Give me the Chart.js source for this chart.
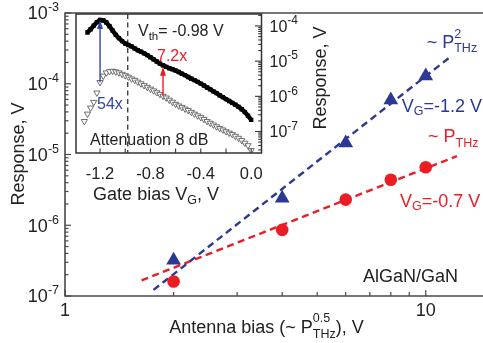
<!DOCTYPE html>
<html><head><meta charset="utf-8">
<script src="https://cdn.jsdelivr.net/npm/chart.js@4.4.1/dist/chart.umd.min.js"></script>
<style>
html,body{margin:0;padding:0;background:#fff;}
#wrap{position:relative;width:483px;height:343px;overflow:hidden;background:#fff;}
#wrap canvas{position:absolute;left:0;top:0;}
</style></head><body>
<div id="wrap"><canvas id="main" width="483" height="343"></canvas><canvas id="inset" width="483" height="343"></canvas></div>
<script>
// ---------- main plot data ----------
const antennaBias = [2, 4, 6, 8, 10];
const responseVg12 = [3.2e-7, 2.4e-6, 1.45e-5, 5.9e-5, 1.29e-4];
const responseVg07 = [1.6e-7, 8.6e-7, 2.3e-6, 4.4e-6, 6.6e-6];
const fitVg12X = [1.76, 11.7];
const fitVg12Y = [1.22e-7, 2.4e-4];
const fitVg07X = [1.63, 12.2];
const fitVg07Y = [1.66e-7, 9.5e-6];
const mainXTicks = [1, 2, 3, 4, 5, 6, 7, 8, 9, 10];
const mainXLabels = [1, 10];
const mainYDecades = [-7, -6, -5, -4, -3];

// ---------- inset data ----------
const gateBias = [-1.325,-1.3,-1.275,-1.25,-1.225,-1.2,-1.175,-1.15,-1.125,-1.1,-1.075,-1.05,-1.025,-1.0,-0.975,-0.95,-0.925,-0.9,-0.875,-0.85,-0.825,-0.8,-0.775,-0.75,-0.725,-0.7,-0.675,-0.65,-0.625,-0.6,-0.575,-0.55,-0.525,-0.5,-0.475,-0.45,-0.425,-0.4,-0.375,-0.35,-0.325,-0.3,-0.275,-0.25,-0.225,-0.2,-0.175,-0.15,-0.125,-0.1,-0.075,-0.05,-0.025,0.0];
const responseNoAtt = [null,6.5e-5,8.1e-5,1.02e-4,1.29e-4,1.48e-4,1.45e-4,1.26e-4,9.8e-5,7.4e-5,5.6e-5,4.5e-5,3.7e-5,3.16e-5,2.88e-5,2.63e-5,2.29e-5,2.04e-5,1.86e-5,1.66e-5,1.48e-5,1.29e-5,1.12e-5,9.8e-6,8.5e-6,7.6e-6,6.9e-6,6.3e-6,5.9e-6,5.4e-6,4.9e-6,4.4e-6,4.0e-6,3.55e-6,3.16e-6,2.88e-6,2.57e-6,2.29e-6,2.04e-6,1.78e-6,1.58e-6,1.38e-6,1.23e-6,1.07e-6,9.5e-7,8.3e-7,7.4e-7,6.5e-7,5.75e-7,5.0e-7,4.3e-7,3.55e-7,2.8e-7,2.14e-7];
const responseAtt8dB = [1.95e-7,3.16e-7,4.7e-7,6.8e-7,1.26e-6,2.5e-6,3.8e-6,4.7e-6,5.1e-6,5.25e-6,5.0e-6,4.7e-6,4.27e-6,3.9e-6,3.55e-6,3.16e-6,2.88e-6,2.57e-6,2.29e-6,2.04e-6,1.82e-6,1.62e-6,1.45e-6,1.29e-6,1.15e-6,1.02e-6,9.1e-7,7.9e-7,6.9e-7,6.0e-7,5.4e-7,4.9e-7,4.4e-7,4.0e-7,3.55e-7,3.16e-7,2.82e-7,2.51e-7,2.24e-7,1.95e-7,1.74e-7,1.55e-7,1.38e-7,1.23e-7,1.12e-7,1.0e-7,9.1e-8,8.3e-8,7.4e-8,6.5e-8,5.6e-8,4.7e-8,4.0e-8,2.9e-8];
const thresholdVoltage = -0.98;
const arrowBlueIndex = 5;   // V_G = -1.2 V  (54x)
const arrowRedIndex = 25;   // V_G = -0.7 V  (7.2x)
const insetXTicks = [-1.2, -1.0, -0.8, -0.6, -0.4, -0.2, 0.0];
const insetXLabels = ['-1.2', '-0.8', '-0.4', '0.0'];
const insetXLabelValues = [-1.2, -0.8, -0.4, 0.0];
const insetYDecades = [-8, -7, -6, -5, -4];

const BLUE = '#2b3894', RED = '#ec1c24', TXT = '#222', AXIS = '#4a4a4a';
const FONT = "'Liberation Sans', Arial, Helvetica, sans-serif";
function font(s){ return s + 'px ' + FONT; }
function richWidth(ctx, parts){
  let w = 0;
  for (const p of parts){
    ctx.font = font(p.s);
    if (p.stack) w += Math.max(ctx.measureText(p.sup).width, ctx.measureText(p.sub).width);
    else w += ctx.measureText(p.t).width;
  }
  return w;
}
function drawRich(ctx, parts, x, y, align, color){
  const w = richWidth(ctx, parts);
  let cx = align === 'center' ? x - w/2 : align === 'right' ? x - w : x;
  ctx.fillStyle = color; ctx.textBaseline = 'alphabetic'; ctx.textAlign = 'left';
  for (const p of parts){
    ctx.font = font(p.s);
    if (p.stack){
      ctx.fillText(p.sup, cx, y + p.supDy);
      ctx.fillText(p.sub, cx, y + p.subDy);
      cx += Math.max(ctx.measureText(p.sup).width, ctx.measureText(p.sub).width);
    } else {
      ctx.fillText(p.t, cx, y + (p.dy || 0));
      cx += ctx.measureText(p.t).width;
    }
  }
}
function seg(ctx, x0, y0, x1, y1){ ctx.beginPath(); ctx.moveTo(x0, y0); ctx.lineTo(x1, y1); ctx.stroke(); }

const mainDecor = {
  id: 'mainDecor',
  afterDraw(chart){
    const {ctx, chartArea: a, scales: {x, y}} = chart;
    ctx.save();
    ctx.strokeStyle = AXIS; ctx.lineWidth = 1.6;
    ctx.beginPath();
    ctx.moveTo(a.right + 2, a.top); ctx.lineTo(a.left, a.top); ctx.lineTo(a.left, a.bottom); ctx.lineTo(a.right + 2, a.bottom);
    ctx.stroke();
    ctx.lineWidth = 1.2;
    for (const v of mainXTicks){
      const px = x.getPixelForValue(v);
      const len = mainXLabels.includes(v) ? 6 : 4;
      seg(ctx, px, a.bottom, px, a.bottom - len);
    }
    for (const e of mainYDecades){
      for (let m = 1; m <= 9; m++){
        const v = m * Math.pow(10, e);
        if (v > y.max * 1.0001) continue;
        const py = y.getPixelForValue(v);
        seg(ctx, a.left, py, a.left + (m === 1 ? 6 : 3.5), py);
      }
      const py = y.getPixelForValue(Math.pow(10, e));
      drawRich(ctx, [{t:'10', s:18}, {t:String(e), s:12.5, dy:-8}], 59, py + 6.4, 'right', TXT);
    }
    for (const v of mainXLabels){
      drawRich(ctx, [{t:String(v), s:18}], x.getPixelForValue(v), 316, 'center', TXT);
    }
    // axis titles
    drawRich(ctx, [{t:'Antenna bias (~ P', s:18}, {stack:true, sup:'0.5', sub:'THz', s:12.5, supDy:-11, subDy:5}, {t:'), V', s:18}], 266.5, 333.3, 'center', TXT);
    ctx.save(); ctx.translate(24, 154); ctx.rotate(-Math.PI/2);
    drawRich(ctx, [{t:'Response, V', s:18}], 0, 0, 'center', TXT);
    ctx.restore();
    // annotations
    drawRich(ctx, [{t:'~ P', s:18}, {stack:true, sup:'2', sub:'THz', s:12.5, supDy:-10, subDy:4}], 426.7, 48.3, 'left', BLUE);
    drawRich(ctx, [{t:'V', s:18}, {t:'G', s:12.5, dy:3.5}, {t:'=-1.2 V', s:18}], 401.7, 111.7, 'left', BLUE);
    drawRich(ctx, [{t:'~ P', s:18}, {t:'THz', s:12.5, dy:5}], 428, 141.7, 'left', RED);
    drawRich(ctx, [{t:'V', s:18}, {t:'G', s:12.5, dy:3.5}, {t:'=-0.7 V', s:18}], 400, 206.7, 'left', RED);
    drawRich(ctx, [{t:'AlGaN/GaN', s:18}], 363, 281.7, 'left', TXT);
    ctx.restore();
  }
};

new Chart(document.getElementById('main'), {
  type: 'scatter',
  data: { datasets: [
    { label: 'V_G=-1.2 V', data: antennaBias.map((v, i) => ({x: v, y: responseVg12[i]})),
      pointStyle: 'triangle', pointRadius: 8.5, backgroundColor: BLUE, borderColor: BLUE, borderWidth: 0 },
    { label: 'V_G=-0.7 V', data: antennaBias.map((v, i) => ({x: v, y: responseVg07[i]})),
      pointStyle: 'circle', pointRadius: 6.3, backgroundColor: RED, borderColor: RED, borderWidth: 0 },
    { type: 'line', label: '~P^2', data: fitVg12X.map((v, i) => ({x: v, y: fitVg12Y[i]})),
      borderColor: BLUE, borderWidth: 2.4, borderDash: [7, 4.5], pointRadius: 0, fill: false, showLine: true },
    { type: 'line', label: '~P', data: fitVg07X.map((v, i) => ({x: v, y: fitVg07Y[i]})),
      borderColor: RED, borderWidth: 2.4, borderDash: [7, 4.5], pointRadius: 0, fill: false, showLine: true }
  ]},
  options: {
    responsive: false, animation: false, devicePixelRatio: 1,
    layout: { padding: {top: 13, left: 0, right: 0, bottom: 0}, autoPadding: false },
    plugins: { legend: {display: false}, tooltip: {enabled: false} },
    scales: {
      x: { type: 'logarithmic', min: 1, max: 14.41, position: 'bottom',
           grid: {display: false}, border: {display: false}, ticks: {display: false},
           afterFit: s => { s.height = 47; } },
      y: { type: 'logarithmic', min: 1e-7, max: 1e-3, position: 'left',
           grid: {display: false}, border: {display: false}, ticks: {display: false},
           afterFit: s => { s.width = 65; } }
    }
  },
  plugins: [mainDecor]
});

function arrow(ctx, x, yBase, yTip, color){
  ctx.strokeStyle = color; ctx.fillStyle = color; ctx.lineWidth = 1.4;
  seg(ctx, x, yBase, x, yTip + 7);
  ctx.beginPath(); ctx.moveTo(x, yTip); ctx.lineTo(x - 3, yTip + 9); ctx.lineTo(x + 3, yTip + 9); ctx.closePath(); ctx.fill();
}

const insetDecor = {
  id: 'insetDecor',
  beforeDatasetsDraw(chart){
    const {ctx, chartArea: a, scales: {x}} = chart;
    ctx.save();
    ctx.fillStyle = '#fff';
    ctx.fillRect(a.left, a.top, a.right - a.left, a.bottom - a.top);
    ctx.strokeStyle = '#222'; ctx.lineWidth = 1.2; ctx.setLineDash([5, 3.5]);
    const px = x.getPixelForValue(thresholdVoltage);
    seg(ctx, px, a.top, px, a.bottom);
    ctx.restore();
  },
  afterDatasetsDraw(chart){
    const {ctx, chartArea: a, scales: {x, y}} = chart;
    ctx.save();
    // arrows
    arrow(ctx, x.getPixelForValue(gateBias[arrowBlueIndex]), y.getPixelForValue(responseAtt8dB[arrowBlueIndex]), y.getPixelForValue(responseNoAtt[arrowBlueIndex]), '#3344a8');
    arrow(ctx, x.getPixelForValue(gateBias[arrowRedIndex]), y.getPixelForValue(responseAtt8dB[arrowRedIndex]), y.getPixelForValue(responseNoAtt[arrowRedIndex]) + 1.5, RED);
    // frame
    ctx.strokeStyle = '#333'; ctx.lineWidth = 1.5;
    ctx.strokeRect(a.left, a.top, a.right - a.left, a.bottom - a.top);
    ctx.lineWidth = 1.1;
    for (const v of insetXTicks){
      const px = x.getPixelForValue(v);
      seg(ctx, px, a.bottom, px, a.bottom - 4.5);
    }
    for (const e of insetYDecades){
      for (let m = 1; m <= 9; m++){
        const v = m * Math.pow(10, e);
        if (v < y.min || v > y.max) continue;
        const py = y.getPixelForValue(v);
        seg(ctx, a.right, py, a.right - (m === 1 ? 6.5 : 3.3), py);
      }
      const v = Math.pow(10, e);
      if (v >= y.min && v <= y.max){
        drawRich(ctx, [{t:'10', s:16}, {t:String(e), s:12, dy:-7.5}], a.right + 8, y.getPixelForValue(v) + 5.7, 'left', TXT);
      }
    }
    insetXLabelValues.forEach((v, i) => {
      drawRich(ctx, [{t:insetXLabels[i], s:16.5}], x.getPixelForValue(v), 179, 'center', TXT);
    });
    drawRich(ctx, [{t:'Gate bias V', s:18}, {t:'G', s:12.5, dy:4}, {t:', V', s:18}], 156, 199.5, 'center', TXT);
    ctx.save(); ctx.translate(325.5, 78); ctx.rotate(-Math.PI/2);
    drawRich(ctx, [{t:'Response, V', s:18}], 0, 0, 'center', TXT);
    ctx.restore();
    // inset texts
    drawRich(ctx, [{t:'V', s:16}, {t:'th', s:11.5, dy:4}, {t:'= -0.98 V', s:16}], 138, 36, 'left', TXT);
    drawRich(ctx, [{t:'7.2x', s:16}], 157, 60.5, 'left', RED);
    drawRich(ctx, [{t:'54x', s:16}], 97, 108.5, 'left', '#3344a8');
    drawRich(ctx, [{t:'Attenuation 8 dB', s:16}], 90, 144.5, 'left', TXT);
    ctx.restore();
  }
};

new Chart(document.getElementById('inset'), {
  type: 'scatter',
  data: { datasets: [
    { label: 'no attenuation', data: gateBias.map((v, i) => ({x: v, y: responseNoAtt[i]})).filter(p => p.y !== null),
      showLine: true, borderColor: '#000', borderWidth: 4.4, fill: false,
      pointStyle: 'rect', pointRadius: 3.1, backgroundColor: '#000', pointBorderWidth: 0 },
    { label: 'attenuation 8 dB', data: gateBias.map((v, i) => ({x: v, y: responseAtt8dB[i]})),
      pointStyle: 'triangle', rotation: 180, pointRadius: 3.6, backgroundColor: '#fff', borderColor: '#5f5f5f', borderWidth: 0.9 }
  ]},
  options: {
    responsive: false, animation: false, devicePixelRatio: 1,
    layout: { padding: {top: 14, left: 76, right: 221.5, bottom: 190}, autoPadding: false },
    plugins: { legend: {display: false}, tooltip: {enabled: false} },
    scales: {
      x: { type: 'linear', min: -1.391, max: 0.082, position: 'bottom',
           grid: {display: false}, border: {display: false}, ticks: {display: false},
           afterFit: s => { s.height = 0; } },
      y: { type: 'logarithmic', min: 2.45e-8, max: 2.19e-4, position: 'right',
           grid: {display: false}, border: {display: false}, ticks: {display: false},
           afterFit: s => { s.width = 0; } }
    }
  },
  plugins: [insetDecor]
});
</script>
</body></html>
